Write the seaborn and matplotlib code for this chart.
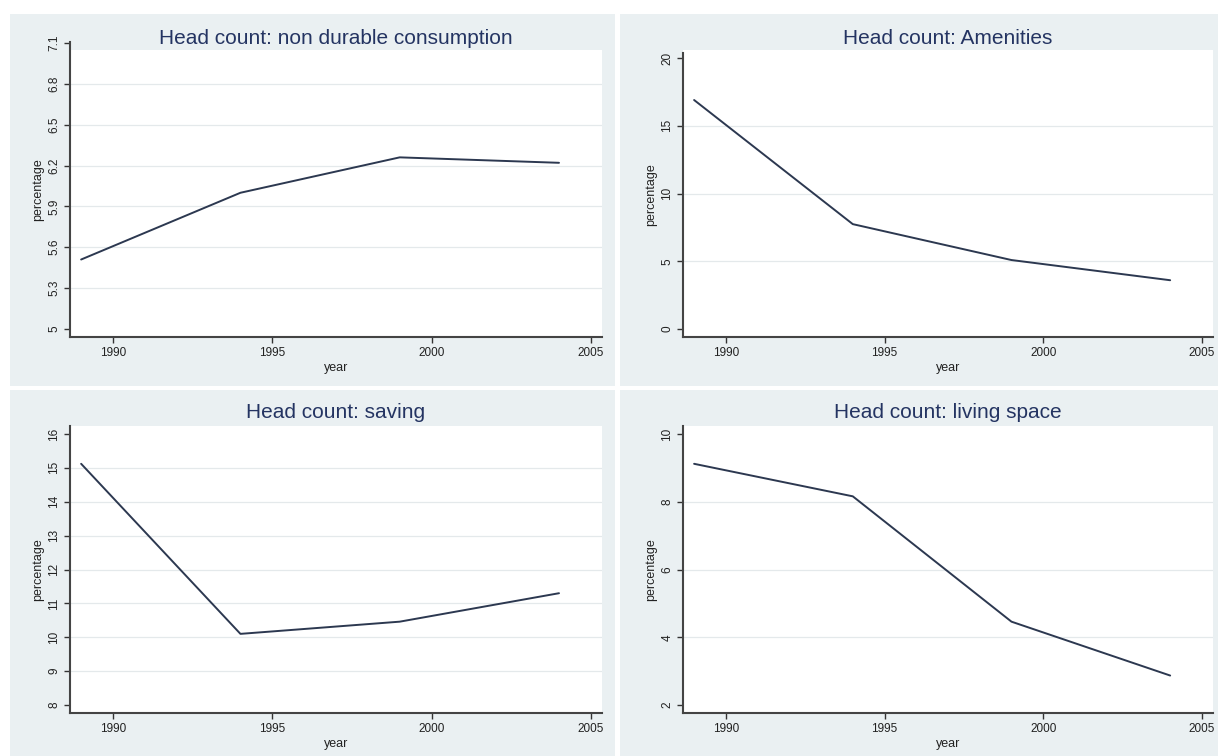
import numpy as np
import pandas as pd
import matplotlib
matplotlib.use("Agg")
import matplotlib.pyplot as plt
from matplotlib.patches import Rectangle
import seaborn as sns

years = [1989, 1994, 1999, 2004]
nondurable = [5.51, 6.00, 6.26, 6.22]
amenities = [16.9, 7.74, 5.09, 3.6]
saving = [15.12, 10.10, 10.46, 11.30]
living_space = [9.12, 8.16, 4.46, 2.87]

titles = ["Head count: non durable consumption", "Head count: Amenities",
          "Head count: saving", "Head count: living space"]
yticks_list = [
    [5.0, 5.3, 5.6, 5.9, 6.2, 6.5, 6.8, 7.1],
    [0, 5, 10, 15, 20],
    [8, 9, 10, 11, 12, 13, 14, 15, 16],
    [2, 4, 6, 8, 10],
]
ytick_labels = [
    ["5", "5.3", "5.6", "5.9", "6.2", "6.5", "6.8", "7.1"],
    ["0", "5", "10", "15", "20"],
    ["8", "9", "10", "11", "12", "13", "14", "15", "16"],
    ["2", "4", "6", "8", "10"],
]
xticks = [1990, 1995, 2000, 2005]
series = [nondurable, amenities, saving, living_space]

sns.set_theme(style="white")
plt.rcParams['font.family'] = ['Liberation Sans', 'DejaVu Sans']

W, H = 1218, 756
fig = plt.figure(figsize=(W / 100, H / 100), dpi=100)
fig.patch.set_facecolor("white")

BG = "#EAF0F2"
LINE = "#2c3850"
TITLE = "#243462"

# panel backgrounds (pixel boxes: x0, y0, x1, y1)
panels = [(10, 14, 615, 386), (620, 14, 1218, 386), (10, 390, 615, 756), (620, 390, 1218, 756)]
# white plot regions (x0, y0, x1, y1)
plotregions = [(70, 50, 602, 337), (683, 50, 1213, 337), (70, 426, 602, 713), (683, 426, 1213, 713)]
# axes pixel boxes (left, top, right, bottom)
axboxes = [(70, 42, 602, 337), (683, 53, 1213, 337), (70, 426, 602, 713), (683, 426, 1213, 713)]
ylims = [(4.941, 7.107), (-0.59, 20.37), (7.764, 16.236), (1.764, 10.236)]
title_y = [38, 38, 413, 413]


def fig_rect(box, color, z):
    x0, y0, x1, y1 = box
    fig.patches.append(Rectangle((x0 / W, 1 - y1 / H), (x1 - x0) / W, (y1 - y0) / H,
                                 transform=fig.transFigure, facecolor=color, edgecolor="none",
                                 zorder=z))


for box in panels:
    fig_rect(box, BG, -10)
for box in plotregions:
    fig_rect(box, "white", -9)

for i in range(4):
    l, t, r, b = axboxes[i]
    ax = fig.add_axes([l / W, 1 - b / H, (r - l) / W, (b - t) / H])
    ax.set_zorder(5)
    ax.patch.set_alpha(0.0)
    df = pd.DataFrame({"year": years, "value": series[i]})
    sns.lineplot(data=df, x="year", y="value", ax=ax, color=LINE, linewidth=1.4)
    ax.set_xlim(1988.65, 2005.35)
    ax.set_ylim(*ylims[i])
    ax.set_xticks(xticks)
    ax.set_xticklabels([str(x) for x in xticks], fontsize=8.5, color="#222222")
    ax.set_yticks(yticks_list[i])
    ax.set_yticklabels(ytick_labels[i], fontsize=8.5, color="#222222", rotation=90, va="center")
    ax.tick_params(axis="both", direction="out", length=4, width=1.0, color="#333333",
                   bottom=True, left=True, pad=3)
    ax.grid(axis="y", color="#e4e9eb", linewidth=0.9)
    ax.grid(axis="x", visible=False)
    gl = ax.get_ygridlines()
    gl[0].set_visible(False)
    gl[-1].set_visible(False)
    for s in ["top", "right"]:
        ax.spines[s].set_visible(False)
    for s in ["left", "bottom"]:
        ax.spines[s].set_color("#444444")
        ax.spines[s].set_linewidth(1.5)
    ax.set_xlabel("year", fontsize=9, color="#222222", labelpad=2)
    ax.set_ylabel("percentage", fontsize=9, color="#222222", labelpad=3)
    fig.text(((l + r) / 2) / W, 1 - title_y[i] / H, titles[i], ha="center", va="center",
             fontsize=15, color=TITLE, zorder=6)

fig.savefig("out.png", dpi=100, facecolor="white")
